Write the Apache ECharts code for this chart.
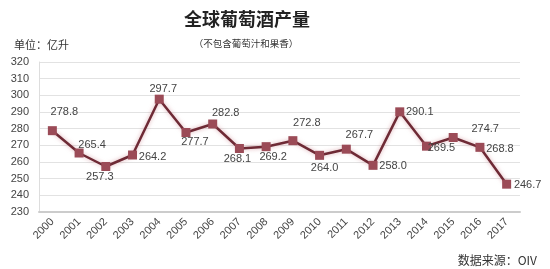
<!DOCTYPE html>
<html><head><meta charset="utf-8">
<script src="https://cdn.jsdelivr.net/npm/echarts@6/dist/echarts.min.js"></script>
<style>html,body{margin:0;padding:0;background:#fff}#c{width:550px;height:269px}</style>
</head><body><div id="c"></div>
<script>
const years = ['2000','2001','2002','2003','2004','2005','2006','2007','2008','2009','2010','2011','2012','2013','2014','2015','2016','2017'];
const production = [278.8,265.4,257.3,264.2,297.7,277.7,282.8,268.1,269.2,272.8,264.0,267.7,258.0,290.1,269.5,274.7,268.8,246.7];
// label offsets [dx, dy] relative to each point
const labelOffsets = [[12,-19],[13,-8],[-6,10],[20,2],[4,-10],[9,9],[13,-11],[-2,10],[7,10],[14,-18],[5,13],[13,-14],[20,1],[20,0],[15,2],[32,-9],[20,2],[21,1]];
const chart = echarts.init(document.getElementById('c'));
chart.setOption({
  animation:false,
  textStyle:{fontFamily:'"Noto Sans CJK SC", "Liberation Sans", sans-serif'},
  title:[
    {text:'全球葡萄酒产量',left:242,top:5,textAlign:'center',textStyle:{fontSize:18,fontWeight:'bold',color:'#222',fontFamily:'"Noto Sans CJK SC"'}},
    {text:'（不包含葡萄汁和果香）',left:241,top:34,textAlign:'center',textStyle:{fontSize:9.5,fontWeight:'normal',color:'#333',fontFamily:'"Noto Sans CJK SC"'}},
    {text:'单位：亿升',left:9,top:34,textStyle:{fontSize:11,fontWeight:'normal',color:'#333',fontFamily:'"Noto Sans CJK SC"'}},
    {text:'数据来源：OIV',right:8,top:249,textStyle:{fontSize:12,fontWeight:'normal',color:'#333',fontFamily:'"Noto Sans CJK SC"'}}
  ],
  grid:{left:39,right:30,top:62,bottom:57},
  xAxis:{type:'category',data:years,boundaryGap:true,
    axisLine:{lineStyle:{color:'#ccc',width:2}},axisTick:{show:false},
    axisLabel:{rotate:45,color:'#444',fontSize:11,margin:8,fontFamily:'"Liberation Sans", sans-serif'}},
  yAxis:{type:'value',min:230,max:320,interval:10,
    axisLine:{show:true,lineStyle:{color:'#ddd'}},axisTick:{show:false},
    splitLine:{lineStyle:{color:'#e2e2e2'}},
    axisLabel:{color:'#444',fontSize:11,margin:10,fontFamily:'"Liberation Sans", sans-serif'}},
  series:[{type:'line',data:production.map((v,i)=>({value:v,label:{offset:labelOffsets[i]}})),
    symbol:'rect',symbolSize:9,
    itemStyle:{color:'#9b4b57'},
    lineStyle:{color:'#6e2a35',width:2.5,shadowColor:'rgba(200,120,130,0.6)',shadowBlur:4},
    label:{show:true,position:'inside',color:'#444',fontSize:11,fontFamily:'"Liberation Sans", sans-serif',formatter:p=>p.value.toFixed(1)}
  }]
});
</script></body></html>
